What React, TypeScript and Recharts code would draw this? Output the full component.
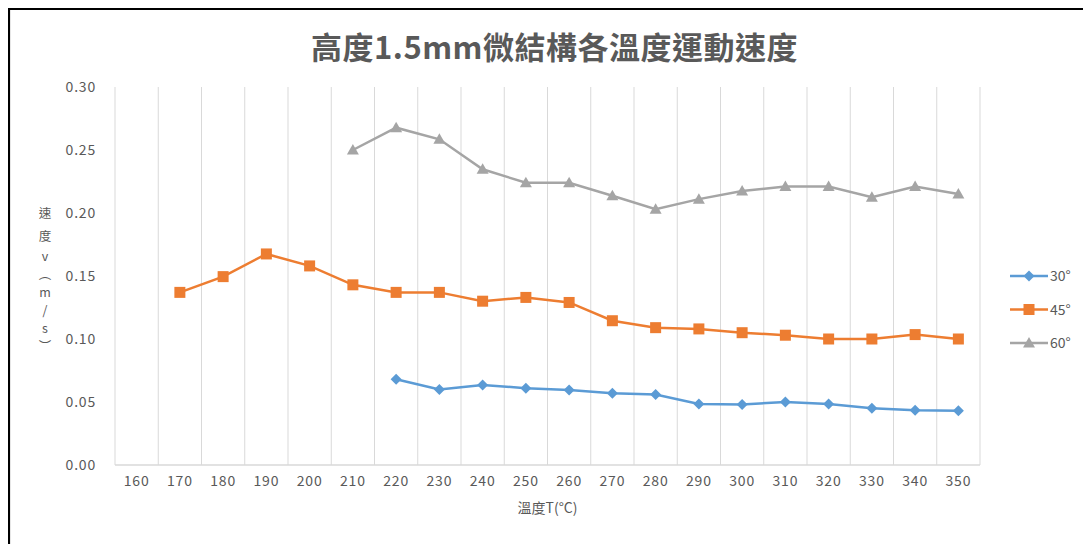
import React from 'react';
import { LineChart, Line, XAxis, YAxis, CartesianGrid, Legend } from 'recharts';

const temperatures = ['160','170','180','190','200','210','220','230','240','250','260','270','280','290','300','310','320','330','340','350'];
const speed30: (number | null)[] = [null,null,null,null,null,null,0.068,0.060,0.0635,0.061,0.0595,0.057,0.056,0.0485,0.048,0.050,0.0485,0.045,0.0435,0.043];
const speed45: (number | null)[] = [null,0.137,0.1495,0.1675,0.158,0.143,0.137,0.137,0.130,0.133,0.129,0.1145,0.109,0.108,0.105,0.103,0.100,0.100,0.1035,0.100];
const speed60: (number | null)[] = [null,null,null,null,null,0.250,0.2677,0.2585,0.2347,0.224,0.224,0.2137,0.203,0.211,0.2175,0.221,0.221,0.2125,0.221,0.215];
const yTicks = [0, 0.05, 0.1, 0.15, 0.2, 0.25, 0.3];
const seriesNames = ['30°', '45°', '60°'];
const yLabelChars = ['速', '度', 'v', '︵', 'm', '/', 's', '︶'];

const data = temperatures.map((t, i) => ({ t, s30: speed30[i], s45: speed45[i], s60: speed60[i] }));

const BLUE = '#5B9BD5';
const ORANGE = '#ED7D31';
const GRAY = '#A5A5A5';
const TEXT = '#595959';
const FONT = '"Noto Sans CJK TC", "Noto Sans", sans-serif';

const Marker = ({ kind, cx, cy, color }: { kind: string; cx: number; cy: number; color: string }) => {
  if (kind === 'diamond') {
    return <path d={`M${cx},${cy - 5.5} L${cx + 5.5},${cy} L${cx},${cy + 5.5} L${cx - 5.5},${cy} Z`} fill={color} />;
  }
  if (kind === 'square') {
    return <rect x={cx - 5.5} y={cy - 5.5} width={11} height={11} fill={color} />;
  }
  return <path d={`M${cx},${cy - 6} L${cx + 6},${cy + 4.5} L${cx - 6},${cy + 4.5} Z`} fill={color} />;
};

const makeDot = (kind: string, color: string) => (props: any) => {
  const { cx, cy, index, value } = props;
  if (cy == null || value == null || isNaN(cy)) return <g key={`d-${kind}-${index}`} />;
  return <g key={`d-${kind}-${index}`}><Marker kind={kind} cx={cx} cy={cy} color={color} /></g>;
};

const legendItems = [
  { name: seriesNames[0], color: BLUE, kind: 'diamond' },
  { name: seriesNames[1], color: ORANGE, kind: 'square' },
  { name: seriesNames[2], color: GRAY, kind: 'triangle' },
];

const LegendContent = () => (
  <svg width={90} height={100}>
    {legendItems.map((it, i) => {
      const y = 12 + i * 33.5;
      return (
        <g key={it.name}>
          <line x1={2} x2={40} y1={y} y2={y} stroke={it.color} strokeWidth={2.5} />
          <Marker kind={it.kind} cx={21} cy={y} color={it.color} />
          <text x={42} y={y + 5} fontSize={14} fill={TEXT} fontFamily={FONT}>{it.name}</text>
        </g>
      );
    })}
  </svg>
);

const YLabel = () => {
  const x = 37;
  const centers = [205, 228, 248, 266, 284, 302, 320, 338];
  return (
    <g>
      {yLabelChars.map((c, i) => (
        <text key={i} x={x} y={centers[i] + 4.5} textAnchor="middle" fontSize={12.5} fill={TEXT} fontFamily={FONT}>{c}</text>
      ))}
    </g>
  );
};

export default function App() {
  const W = 1083;
  const H = 536;
  return (
    <div style={{ position: 'relative', width: W, height: H, background: '#fff', overflow: 'hidden' }}>
      <div style={{ position: 'absolute', left: 0, top: 0, right: 0, bottom: 0, borderTop: '2px solid #000', borderLeft: '2px solid #000', boxSizing: 'border-box', pointerEvents: 'none', zIndex: 2 }} />
      <div style={{ position: 'absolute', left: 2, top: 2, width: 1, height: H, background: '#e6e6e6', zIndex: 2 }} />
      <div style={{ position: 'absolute', left: 0, right: 0, top: 15, textAlign: 'center', paddingLeft: 10, fontFamily: FONT, fontSize: 31, fontWeight: 700, color: TEXT, letterSpacing: 0.5, zIndex: 1 }}>
        高度1.5mm微結構各溫度運動速度
      </div>
      <LineChart width={W} height={H} data={data} margin={{ top: 79, right: 111, left: 47, bottom: 49 }}>
        <CartesianGrid
          horizontal={false}
          stroke="#D9D9D9"
          strokeWidth={1}
          verticalCoordinatesGenerator={({ offset }: any) =>
            Array.from({ length: temperatures.length + 1 }, (_, i) => offset.left + (i * offset.width) / temperatures.length)
          }
        />
        <XAxis
          dataKey="t"
          type="category"
          scale="band"
          interval={0}
          height={30}
          axisLine={{ stroke: '#D9D9D9', strokeWidth: 1.5 }}
          tickLine={false}
          tickMargin={5}
          tick={{ fontSize: 14, fill: TEXT, fontFamily: FONT, letterSpacing: 0.8 }}
          label={{ value: '溫度T(°C)', position: 'bottom', offset: 8, fontSize: 14, fill: TEXT, fontFamily: FONT }}
        />
        <YAxis
          width={60}
          domain={[0, 0.3]}
          ticks={yTicks}
          interval={0}
          axisLine={false}
          tickLine={false}
          tickMargin={13}
          tickFormatter={(v: number) => v.toFixed(2)}
          tick={{ fontSize: 14, fill: TEXT, fontFamily: FONT, letterSpacing: 0.8 }}
          label={<YLabel />}
        />
        <Legend layout="vertical" align="center" verticalAlign="middle" wrapperStyle={{ left: 1000, top: 256, width: 90 }} content={<LegendContent />} />
        <Line type="linear" dataKey="s30" name={seriesNames[0]} stroke={BLUE} strokeWidth={2.5} dot={makeDot('diamond', BLUE)} activeDot={false} isAnimationActive={false} />
        <Line type="linear" dataKey="s45" name={seriesNames[1]} stroke={ORANGE} strokeWidth={2.5} dot={makeDot('square', ORANGE)} activeDot={false} isAnimationActive={false} />
        <Line type="linear" dataKey="s60" name={seriesNames[2]} stroke={GRAY} strokeWidth={2.5} dot={makeDot('triangle', GRAY)} activeDot={false} isAnimationActive={false} />
      </LineChart>
    </div>
  );
}
